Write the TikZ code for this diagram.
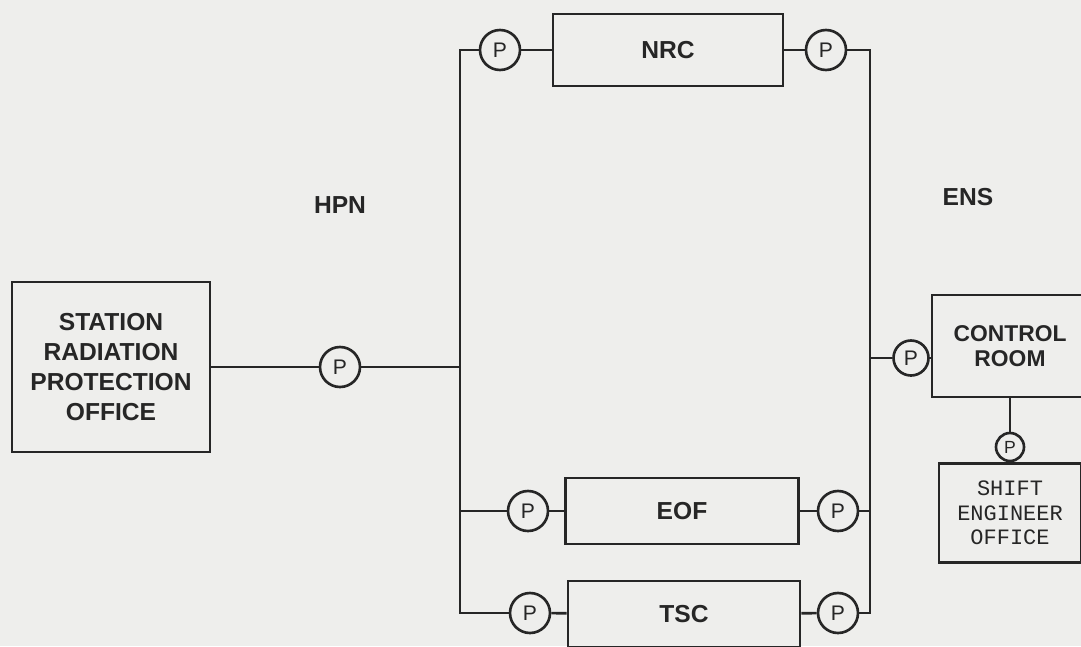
\documentclass[tikz,border=0pt]{standalone}
\usepackage{fontspec}
\setmainfont{Liberation Sans}
\newfontfamily\typewr{Liberation Mono}
\definecolor{paper}{RGB}{238,238,236}
\definecolor{ink}{RGB}{38,38,38}

\begin{document}
\begin{tikzpicture}[x=0.02cm, y=-0.02cm, line width=1.5pt, color=ink, every node/.style={font=\bfseries\fontsize{14}{17}\selectfont}, office/.style={draw, align=center, inner sep=0pt}, pc/.style={draw, circle, minimum size=8mm, inner sep=0pt, font=\fontsize{12}{12}\selectfont}]
	\useasboundingbox (0,0) rectangle (1081,646);
	\fill[paper] (0,0) rectangle (1081,646);
	\clip (0,0) rectangle (1081,646);
	\node[office, minimum width=3.96cm, minimum height=3.4cm] (spo) at (111,367) {STATION\\RADIATION\\PROTECTION\\OFFICE};
	\node[pc] (spoP) at (340,367) {P};
	\coordinate (LT) at (460,50);
	\coordinate (LB) at (460,613);
	\coordinate (RT) at (870,50);
	\coordinate (RB) at (870,613);
	\node[office, minimum width=4.6cm, minimum height=1.44cm] (nrc) at (668,50) {NRC};
	\node[pc] (nrcL) at (500,50) {P};
	\node[pc] (nrcR) at (826,50) {P};
	\node[office, minimum width=4.66cm, minimum height=1.32cm] (eof) at (682,511) {EOF};
	\node[pc] (eofL) at (528,511) {P};
	\node[pc] (eofR) at (838,511) {P};
	\node[office, minimum width=4.64cm, minimum height=1.32cm] (tsc) at (684,614) {TSC};
	\node[pc] (tscL) at (530,613) {P};
	\node[pc] (tscR) at (838,613) {P};
	\node[office, minimum width=3.12cm, minimum height=2.04cm, font=\bfseries\fontsize{13}{14}\selectfont] (cr) at (1010,346) {CONTROL\\ROOM};
	\node[pc, minimum size=7mm] (crP) at (911,358) {P};
	\node[pc, minimum size=5.6mm, font=\fontsize{10}{10}\selectfont] (seP) at (1010,447) {P};
	\node[office, minimum width=2.84cm, minimum height=1.98cm, font=\typewr\fontsize{12.5}{14}\selectfont] (se) at (1010,513) {SHIFT\\ENGINEER\\OFFICE};
	\node (hpn) at (340,205) {HPN};
	\node (ens) at (968,197) {ENS};
	\draw (spo) -- (spoP) -- (spoP -| LT);
	\draw (nrcL) -| (LB) -- (tscL);
	\draw (nrcR) -| (RB) -- (tscR);
	\draw (eofL) -- (eofL -| LB);
	\draw (eofR) -- (eofR -| RB);
	\draw (crP) -- (crP -| RB);
	\draw (crP) -- (crP -| cr.west);
	\foreach \a/\b in {nrcL/nrc, nrc/nrcR, eofL/eof, eof/eofR, tscL/tsc, tsc/tscR, cr/seP, seP/se} {\draw (\a) -- (\b);}
\end{tikzpicture}
\end{document}
